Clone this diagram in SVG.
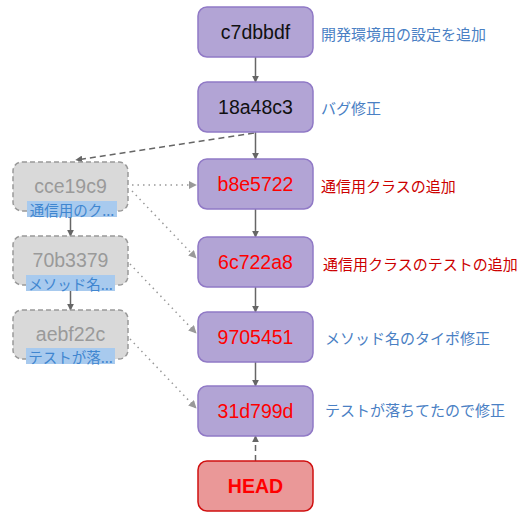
<svg xmlns="http://www.w3.org/2000/svg" width="532" height="522" viewBox="0 0 532 522">
<defs>
<marker id="ah" viewBox="0 0 10 10" refX="9" refY="5" markerWidth="7" markerHeight="7" orient="auto" markerUnits="userSpaceOnUse"><path d="M0,0 L10,5 L0,10 z" fill="#666"/></marker>
<marker id="ahg" viewBox="0 0 10 10" refX="9" refY="5" markerWidth="8" markerHeight="8" orient="auto" markerUnits="userSpaceOnUse"><path d="M0,0 L10,5 L0,10 z" fill="#999"/></marker>
<style>
.main rect{fill:#b2a4d5;stroke:#9079c6;stroke-width:1.5}
.head rect{fill:#ea9898;stroke:#d01010;stroke-width:1.5}
.old rect.box{fill:#d9d9d9;stroke:#999;stroke-width:1.5;stroke-dasharray:5 3}
.hash{font-family:"Liberation Sans",sans-serif;font-size:19.5px;text-anchor:middle;dominant-baseline:central}
.blk{fill:#111}
.red{fill:#ff0000}
.gry{fill:#9a9a9a}
.lbl{font-family:"Noto Sans CJK JP",sans-serif;font-size:15px;dominant-baseline:central}
.blue{fill:#4a80c4}
.dred{fill:#cc0000}
.hl{fill:#a8caee}
.sub{font-family:"Noto Sans CJK JP",sans-serif;font-size:14.5px;fill:#3f86d0;text-anchor:middle;dominant-baseline:central}
.solid{stroke:#666;stroke-width:1.5;fill:none;marker-end:url(#ah)}
.dash{stroke:#666;stroke-width:1.5;fill:none;stroke-dasharray:6 4;marker-end:url(#ah)}
.dot{stroke:#999;stroke-width:1.5;fill:none;stroke-dasharray:1.5 4;marker-end:url(#ahg)}
</style>
</defs>
<rect width="532" height="522" fill="#fff"/>
<g id="connectors">
<line class="solid" x1="255.5" y1="57" x2="255.5" y2="82"/>
<line class="solid" x1="255.5" y1="132" x2="255.5" y2="159"/>
<line class="solid" x1="255.5" y1="209" x2="255.5" y2="237"/>
<line class="solid" x1="255.5" y1="287" x2="255.5" y2="312"/>
<line class="solid" x1="255.5" y1="362" x2="255.5" y2="386"/>
<line class="dash" x1="255.5" y1="461" x2="255.5" y2="436"/>
<line class="dash" x1="254" y1="133" x2="76" y2="160"/>
<line class="solid" x1="70.5" y1="217" x2="70.5" y2="236"/>
<line class="solid" x1="70.5" y1="291" x2="70.5" y2="310"/>
<line class="dot" x1="132" y1="185" x2="196" y2="185"/>
<line class="dot" x1="132" y1="191" x2="196" y2="258"/>
<line class="dot" x1="130" y1="264" x2="196" y2="333"/>
<line class="dot" x1="130" y1="339" x2="196" y2="408"/>
</g>
<g id="c7dbbdf" class="main"><rect x="198" y="7" width="115" height="50" rx="9"/><text class="hash blk" x="255.5" y="32">c7dbbdf</text><text class="lbl blue" x="321" y="33">開発環境用の設定を追加</text></g>
<g id="18a48c3" class="main"><rect x="198" y="82" width="115" height="50" rx="9"/><text class="hash blk" x="255.5" y="107">18a48c3</text><text class="lbl blue" x="321" y="107">バグ修正</text></g>
<g id="b8e5722" class="main"><rect x="198" y="159" width="115" height="50" rx="9"/><text class="hash red" x="255.5" y="184">b8e5722</text><text class="lbl dred" x="321" y="185">通信用クラスの追加</text></g>
<g id="6c722a8" class="main"><rect x="198" y="237" width="115" height="50" rx="9"/><text class="hash red" x="255.5" y="262">6c722a8</text><text class="lbl dred" x="323" y="263">通信用クラスのテストの追加</text></g>
<g id="9705451" class="main"><rect x="198" y="312" width="115" height="50" rx="9"/><text class="hash red" x="255.5" y="337">9705451</text><text class="lbl blue" x="325" y="337">メソッド名のタイポ修正</text></g>
<g id="31d799d" class="main"><rect x="198" y="386" width="115" height="50" rx="9"/><text class="hash red" x="255.5" y="411">31d799d</text><text class="lbl blue" x="325" y="409">テストが落ちてたので修正</text></g>
<g id="HEAD" class="head"><rect x="198" y="461" width="115" height="50" rx="9"/><text class="hash red" x="255.5" y="486" font-weight="bold">HEAD</text></g>
<g id="cce19c9" class="old"><rect class="box" x="13" y="162" width="115" height="49" rx="9"/><text class="hash gry" x="70.5" y="186">cce19c9</text><rect class="hl" x="27" y="201" width="90" height="16"/><text class="sub" x="72" y="209">通信用のク...</text></g>
<g id="70b3379" class="old"><rect class="box" x="13" y="236" width="115" height="49" rx="9"/><text class="hash gry" x="70.5" y="260">70b3379</text><rect class="hl" x="26" y="275" width="89" height="16"/><text class="sub" x="70.5" y="283">メソッド名...</text></g>
<g id="aebf22c" class="old"><rect class="box" x="13" y="310" width="115" height="49" rx="9"/><text class="hash gry" x="70.5" y="334">aebf22c</text><rect class="hl" x="26" y="348" width="89" height="16"/><text class="sub" x="70.5" y="356">テストが落...</text></g>
</svg>
